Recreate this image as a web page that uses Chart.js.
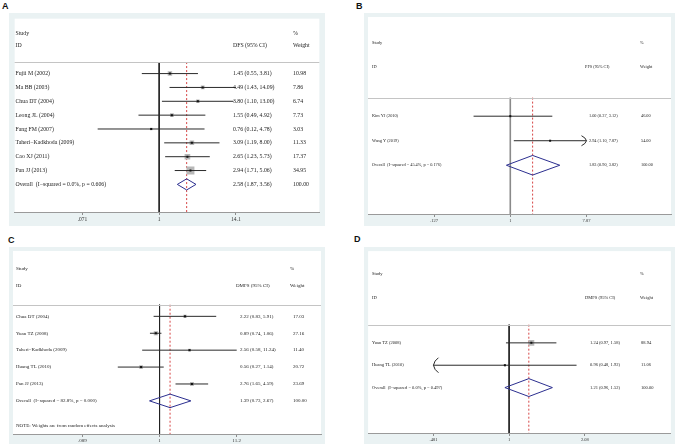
<!DOCTYPE html>
<html><head><meta charset="utf-8">
<script src="https://cdn.jsdelivr.net/npm/chart.js@4.4.1/dist/chart.umd.min.js"></script>
<style>
html,body{margin:0;padding:0;background:#fff;}
#wrap{position:relative;width:678px;height:445px;overflow:hidden;background:#fff;}
canvas{position:absolute;}
.lbl{position:absolute;font:bold 9px "Liberation Sans",Arial,sans-serif;line-height:9px;color:#111;}
</style></head><body>
<div id="wrap">
<div class="lbl" style="left:2px;top:2px">A</div>
<div class="lbl" style="left:356px;top:2px">B</div>
<div class="lbl" style="left:8px;top:236px">C</div>
<div class="lbl" style="left:354px;top:235px">D</div>
<canvas id="cA"></canvas>
<canvas id="cB"></canvas>
<canvas id="cC"></canvas>
<canvas id="cD"></canvas>
</div>
<script>
// ---------- Panel A (DFS) ----------
const studiesA = ["Fujii M (2002)","Ma BB (2003)","Chua DT (2004)","Leong JL (2004)","Fang FM (2007)","Taheri\u2212Kadkhoda (2009)","Cao XJ (2011)","Pan JJ (2013)"];
const estA    = [1.45, 4.49, 3.80, 1.55, 0.76, 3.09, 2.65, 2.94];
const lowA    = [0.55, 1.43, 1.10, 0.49, 0.12, 1.19, 1.23, 1.71];
const highA   = [3.81, 14.09, 13.00, 4.92, 4.78, 8.00, 5.73, 5.06];
const weightA = [10.98, 7.86, 6.74, 7.73, 3.03, 11.33, 17.37, 34.95];
const overallA = [2.58, 1.87, 3.56, 100.00];
const overallLabelA = "Overall  (I\u2212squared = 0.0%, p = 0.606)";
const ticksA = [0.071, 1, 14.1];
const tickLabelsA = [".071", "1", "14.1"];

// ---------- Panel B (PFS) ----------
const studiesB = ["Kim YJ (2010)","Wang Y (2019)"];
const estB    = [1.00, 2.94];
const lowB    = [0.37, 1.10];
const highB   = [3.12, 7.87];
const weightB = [46.00, 54.00];
const overallB = [1.83, 0.90, 3.82, 100.00];
const overallLabelB = "Overall  (I\u2212squared = 45.4%, p = 0.176)";
const ticksB = [0.127, 1, 7.87];
const tickLabelsB = [".127", "1", "7.87"];
const clipHighB = [false, true];

// ---------- Panel C (DMFS) ----------
const studiesC = ["Chua DT (2004)","Yuan TZ (2008)","Taheri\u2212Kadkhoda (2009)","Huang TL (2010)","Pan JJ (2013)"];
const estC    = [2.22, 0.89, 2.56, 0.56, 2.76];
const lowC    = [0.83, 0.74, 0.58, 0.27, 1.65];
const highC   = [5.91, 1.06, 11.24, 1.14, 4.59];
const weightC = [17.03, 27.16, 11.40, 20.72, 23.69];
const overallC = [1.39, 0.73, 2.67, 100.00];
const overallLabelC = "Overall  (I\u2212squared = 82.8%, p = 0.000)";
const noteC = "NOTE: Weights are from random effects analysis";
const ticksC = [0.089, 1, 11.2];
const tickLabelsC = [".089", "1", "11.2"];

// ---------- Panel D (DMFS) ----------
const studiesD = ["Yuan TZ (2008)","Huang TL (2010)"];
const estD    = [1.24, 0.96];
const lowD    = [0.97, 0.48];
const highD   = [1.58, 1.92];
const weightD = [88.94, 11.06];
const overallD = [1.21, 0.96, 1.52, 100.00];
const overallLabelD = "Overall  (I\u2212squared = 0.0%, p = 0.497)";
const ticksD = [0.481, 1, 2.08];
const tickLabelsD = [".481", "1", "2.08"];
const clipLowD = [false, true];

const panels = [
 {id:'cA', measure:'DFS', studies:studiesA, est:estA, low:lowA, high:highA, weight:weightA, overall:overallA, overallLabel:overallLabelA, ticks:ticksA, tickLabels:tickLabelsA,
  L:{left:9, top:13, w:316, h:213, pl:12, pr:323, pt:16, pb:212, nullX:159.5, k:29.6, row0:71.7, step:14.04, hStudy:30.7, hId:43.3, sep:60,
     cStudy:15.5, cCiHead:233, cCi:233, cWtHead:293, cWt:293, font:5.8, tickFont:5.5, boxK:1.35, nullColor:'#222', nullWidth:1, aw:5, ah:5}},
 {id:'cB', measure:'PFS', studies:studiesB, est:estB, low:lowB, high:highB, weight:weightB, overall:overallB, overallLabel:overallLabelB, ticks:ticksB, tickLabels:tickLabelsB, clipHigh:clipHighB,
  L:{left:364, top:13, w:311, h:213, pl:367, pr:673, pt:16, pb:214, nullX:510.7, k:37.3, row0:115.7, step:24.65, hStudy:41.7, hId:66, sep:97,
     cStudy:372, cCiHead:585, cCi:589, cWtHead:640, cWt:641, font:4.3, tickFont:4.5, boxK:0, nullColor:'#8a8a8a', nullWidth:1.6, aw:5, ah:5}},
 {id:'cC', measure:'DMFS', studies:studiesC, est:estC, low:lowC, high:highC, weight:weightC, overall:overallC, overallLabel:overallLabelC, note:noteC, ticks:ticksC, tickLabels:tickLabelsC,
  L:{left:9, top:247, w:316, h:197, pl:12, pr:322, pt:250, pb:434, nullX:159.5, k:32.1, row0:315.7, step:17, hStudy:267.3, hId:285, sep:304,
     cStudy:16, cCiHead:236, cCi:240, cWtHead:290, cWt:293, font:5.0, tickFont:5.0, boxK:0.8, nullColor:'#222', nullWidth:1, aw:5, ah:5}},
 {id:'cD', measure:'DMFS', studies:studiesD, est:estD, low:lowD, high:highD, weight:weightD, overall:overallD, overallLabel:overallLabelD, ticks:ticksD, tickLabels:tickLabelsD, clipLow:clipLowD,
  L:{left:364, top:247, w:311, h:197, pl:367, pr:673, pt:250, pb:433, nullX:509.5, k:104.5, row0:342.3, step:22.5, hStudy:272.7, hId:296.7, sep:324,
     cStudy:372, cCiHead:585, cCi:590, cWtHead:640, cWt:641, font:4.5, tickFont:4.5, boxK:0.62, nullColor:'#222', nullWidth:1, aw:5, ah:7.5}}
];

const fmtCI = (e,l,h) => `${e.toFixed(2)} (${l.toFixed(2)}, ${h.toFixed(2)})`;

function build(p){
  const L = p.L;
  const cv = document.getElementById(p.id);
  cv.width = L.w; cv.height = L.h;
  cv.style.left = L.left + 'px'; cv.style.top = L.top + 'px';
  cv.style.width = L.w + 'px'; cv.style.height = L.h + 'px';
  const xmin = Math.exp((L.pl - L.nullX) / L.k), xmax = Math.exp((L.pr - L.nullX) / L.k);
  const ymin = (L.pt - L.row0) / L.step, ymax = (L.pb - L.row0) / L.step;
  const sepRow = (L.sep - L.row0) / L.step;
  const rowOf = py => (py - L.row0) / L.step;
  const n = p.studies.length, oRow = n;
  const ds = [];
  ds.push({data:[{x:1,y:sepRow},{x:1,y:ymax}], showLine:true, borderColor:L.nullColor, borderWidth:L.nullWidth, pointRadius:0, order:6});
  ds.push({data:[{x:p.overall[0],y:sepRow},{x:p.overall[0],y:ymax}], showLine:true, borderColor:'#d64545', borderWidth:1, borderDash:[2,2], pointRadius:0, order:5});
  if (L.boxK > 0) ds.push({data:p.est.map((e,i)=>({x:e,y:i})), showLine:false, pointStyle:'rect',
     pointRadius:p.weight.map(w=>Math.sqrt(w)*L.boxK/Math.SQRT2), pointBackgroundColor:'#b8b8b8', pointBorderWidth:0, order:4});
  p.est.forEach((e,i)=>ds.push({data:[{x:p.low[i],y:i},{x:p.high[i],y:i}], showLine:true, borderColor:'#2a2a2a', borderWidth:1, pointRadius:0, order:3}));
  const dh = 0.4;
  const o = p.overall;
  ds.push({data:[{x:o[1],y:oRow},{x:o[0],y:oRow-dh},{x:o[2],y:oRow},{x:o[0],y:oRow+dh},{x:o[1],y:oRow}],
     showLine:true, borderColor:'#2c2f90', borderWidth:1, pointRadius:0, order:2});
  ds.push({data:p.est.map((e,i)=>({x:e,y:i})), showLine:false, pointStyle:'rect', pointRadius:1.42, pointBackgroundColor:'#111', pointBorderWidth:0, order:1});

  const bg = {id:'bg'+p.id, beforeDraw(chart){
    const {ctx, chartArea:a} = chart;
    ctx.save();
    ctx.fillStyle = '#eaf2f3'; ctx.fillRect(0,0,chart.width,chart.height);
    ctx.fillStyle = '#ffffff'; ctx.fillRect(a.left,a.top,a.right-a.left,a.bottom-a.top);
    ctx.restore();
  }};
  const txt = {id:'tx'+p.id, afterDatasetsDraw(chart){
    const {ctx} = chart; const xs = chart.scales.x, ys = chart.scales.y, a = chart.chartArea;
    const ox = L.left;
    ctx.save();
    // separator line
    const sy = Math.round(ys.getPixelForValue(sepRow)) + 0.5;
    ctx.strokeStyle = '#c4c4c4'; ctx.lineWidth = 1;
    ctx.beginPath(); ctx.moveTo(a.left, sy); ctx.lineTo(a.right, sy); ctx.stroke();
    ctx.font = L.font + 'px "Liberation Serif", "Times New Roman", serif';
    ctx.fillStyle = '#222'; ctx.textBaseline = 'middle'; ctx.textAlign = 'left';
    const yS = ys.getPixelForValue(rowOf(L.hStudy)), yI = ys.getPixelForValue(rowOf(L.hId));
    ctx.fillText('Study', L.cStudy-ox, yS);
    ctx.fillText('ID', L.cStudy-ox, yI);
    ctx.fillText(p.measure + ' (95% CI)', L.cCiHead-ox, yI);
    ctx.fillText('%', L.cWtHead-ox, yS);
    ctx.fillText('Weight', L.cWtHead-ox, yI);
    p.studies.forEach((s,i)=>{
      const py = ys.getPixelForValue(i);
      ctx.fillText(s, L.cStudy-ox, py);
      ctx.fillText(fmtCI(p.est[i],p.low[i],p.high[i]), L.cCi-ox, py);
      ctx.fillText(p.weight[i].toFixed(2), L.cWt-ox, py);
    });
    const op = ys.getPixelForValue(oRow);
    ctx.fillText(p.overallLabel, L.cStudy-ox, op);
    ctx.fillText(fmtCI(o[0],o[1],o[2]), L.cCi-ox, op);
    ctx.fillText(o[3].toFixed(2), L.cWt-ox, op);
    if (p.note) ctx.fillText(p.note, L.cStudy-ox, ys.getPixelForValue(oRow+1.47));
    // arrows for truncated intervals
    ctx.strokeStyle = '#2a2a2a'; ctx.lineWidth = 1;
    const arrow = (px, py, dir) => {
      const w = L.aw*dir, h = L.ah;
      ctx.beginPath();
      ctx.moveTo(px - w, py - h);
      ctx.quadraticCurveTo(px - 0.15*w, py - 0.6*h, px, py);
      ctx.quadraticCurveTo(px - 0.15*w, py + 0.6*h, px - w, py + h);
      ctx.stroke();
    };
    (p.clipHigh||[]).forEach((f,i)=>{ if (f) arrow(xs.getPixelForValue(p.high[i]), ys.getPixelForValue(i), 1); });
    (p.clipLow||[]).forEach((f,i)=>{ if (f) arrow(xs.getPixelForValue(Math.max(p.low[i], p.ticks[0])), ys.getPixelForValue(i), -1); });
    ctx.restore();
  }};

  return new Chart(cv.getContext('2d'), {
    type:'scatter',
    data:{datasets:ds},
    options:{
      responsive:false, animation:false, events:[],
      layout:{padding:{left:L.pl-L.left, right:L.left+L.w-L.pr, top:L.pt-L.top, bottom:0}},
      elements:{line:{tension:0}},
      plugins:{legend:{display:false}, tooltip:{enabled:false}},
      scales:{
        x:{type:'logarithmic', min:xmin, max:xmax, bounds:'data', position:'bottom',
           afterBuildTicks:s=>{ s.ticks = p.ticks.map(v=>({value:v})); },
           ticks:{autoSkip:false, maxRotation:0, minRotation:0, padding:1, color:'#333',
                  font:{family:'Liberation Serif', size:L.tickFont}, callback:(v,i)=>p.tickLabels[i]},
           grid:{display:true, drawOnChartArea:false, drawTicks:true, tickLength:3, color:'#8c8c8c', lineWidth:1},
           border:{display:true, color:'#9a9a9a', width:1},
           afterFit:s=>{ s.height = L.top + L.h - L.pb; }
        },
        y:{type:'linear', min:ymin, max:ymax, reverse:true, display:false}
      }
    },
    plugins:[bg, txt]
  });
}
panels.forEach(build);
</script>
</body></html>
